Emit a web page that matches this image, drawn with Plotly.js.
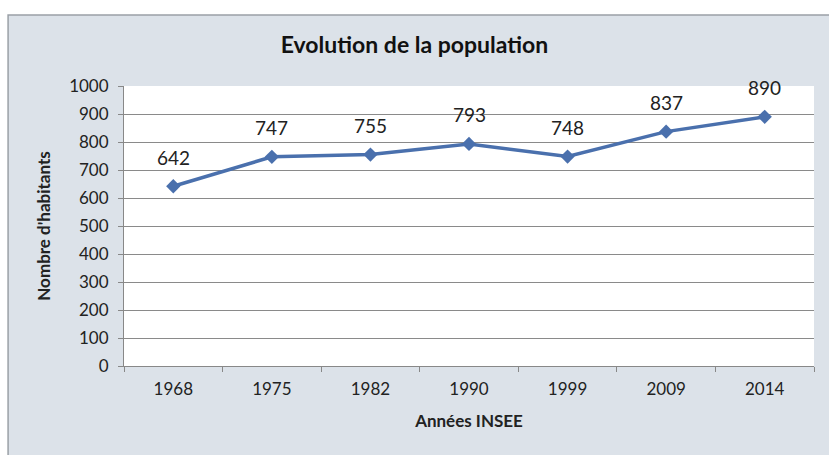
<!DOCTYPE html>
<html>
<head>
<meta charset="utf-8">
<script src="https://cdn.plot.ly/plotly-3.0.1.min.js"></script>
<style>
  html, body { margin: 0; padding: 0; background: #ffffff; }
  #chart { width: 829px; height: 455px; }
</style>
</head>
<body>
<div id="chart"></div>
<script>
// valeurs
var annees = ["1968", "1975", "1982", "1990", "1999", "2009", "2014"];
var habitants = [642, 747, 755, 793, 748, 837, 890];
var yTicks = [0, 100, 200, 300, 400, 500, 600, 700, 800, 900, 1000];

var font = "Lato, 'Open Sans', sans-serif";
var blue = "#4a70ad";

var trace = {
	type: "scatter",
	mode: "lines+markers",
	x: annees,
	y: habitants,
	line: { color: blue, width: 3.5 },
	marker: { symbol: "diamond", size: 11, color: blue },
	hoverinfo: "x+y"
};

// étiquettes des valeurs au-dessus des points (x = index de la catégorie)
var labels = annees.map(function(a, i) {
	return {
		x: i, y: habitants[i], xref: "x", yref: "y",
		text: String(habitants[i]), showarrow: false,
		yshift: 29, font: { family: font, size: 19, color: "#222" }
	};
});

var layout = {
	width: 829,
	height: 455,
	margin: { l: 124, r: 15, t: 86, b: 89 },
	paper_bgcolor: "#dce2e9",
	plot_bgcolor: "#ffffff",
	showlegend: false,
	font: { family: font, color: "#222" },
	title: {
		text: "<b>Evolution de la population</b>",
		font: { family: font, size: 23, color: "#111" },
		x: 0.5, xanchor: "center",
		y: 0.902, yanchor: "middle"
	},
	xaxis: {
		type: "category",
		range: [-0.5, 6.5],
		showgrid: false,
		showline: true, linecolor: "#888", linewidth: 1,
		ticks: "outside", tickson: "boundaries", ticklen: 5, tickcolor: "#888",
		ticklabelstandoff: 8,
		tickfont: { family: font, size: 17, color: "#222" },
		title: { text: "<b>Années INSEE</b>", font: { family: font, size: 17, color: "#222" }, standoff: 16 }
	},
	yaxis: {
		range: [0, 1000],
		tickvals: yTicks,
		showgrid: true, gridcolor: "#8a8a8a", gridwidth: 1,
		zeroline: false,
		showline: true, linecolor: "#888", linewidth: 1,
		ticks: "outside", ticklen: 5, tickcolor: "#888",
		ticklabelstandoff: 6,
		tickfont: { family: font, size: 17, color: "#222" },
		title: { text: "<b>Nombre d'habitants</b>", font: { family: font, size: 17, color: "#222" }, standoff: 14 }
	},
	annotations: labels,
	shapes: [
		// bande blanche au-dessus et à gauche du cadre
		{ type: "rect", xref: "paper", yref: "paper", x0: -0.2, x1: 1.05, y0: 1.2536, y1: 1.4,
			fillcolor: "#ffffff", line: { width: 0 }, layer: "above" },
		{ type: "rect", xref: "paper", yref: "paper", x0: -0.2, x1: -0.168, y0: -0.4, y1: 1.4,
			fillcolor: "#ffffff", line: { width: 0 }, layer: "above" },
		// cadre du graphique
		{ type: "rect", xref: "paper", yref: "paper", x0: -0.168, x1: 1.05, y0: -0.4, y1: 1.2536,
			fillcolor: "rgba(0,0,0,0)", line: { color: "#9aa0a6", width: 1.5 }, layer: "above" }
	]
};

Plotly.newPlot("chart", [trace], layout, { displayModeBar: false, staticPlot: true });
</script>
</body>
</html>
